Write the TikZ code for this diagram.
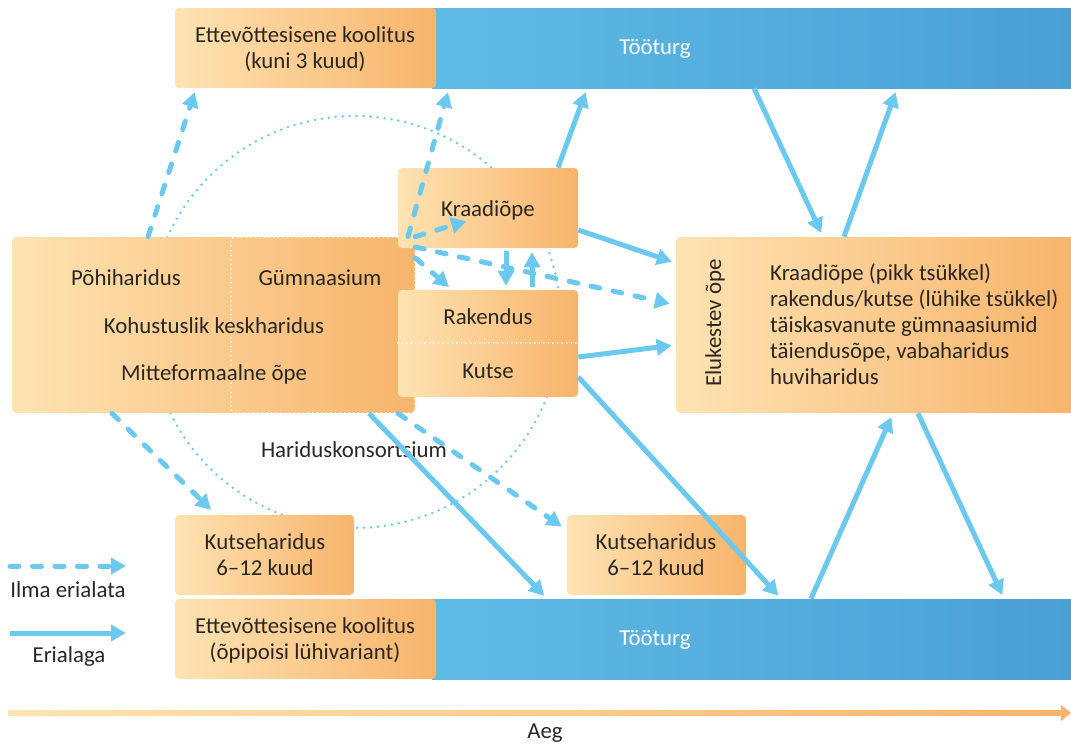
\documentclass[tikz,border=0pt]{standalone}
\usepackage{fontspec}
\setmainfont{Carlito}
\usetikzlibrary{arrows.meta,fit}
\definecolor{orlight}{HTML}{FEE3B3}
\definecolor{ordark}{HTML}{F7B46B}
\definecolor{bluelight}{HTML}{5EBBE6}
\definecolor{bluedark}{HTML}{4A9FD4}
\definecolor{arrowblue}{HTML}{6BC8EF}
\definecolor{ink}{HTML}{2B2622}

\begin{document}
\begin{tikzpicture}[x=0.02cm,y=-0.02cm,font=\fontsize{13}{14.8}\selectfont,text=ink]
    %
    % `box' is used for the orange boxes, `market' for the blue bars.
    % `flow' (erialaga) and `loose' (ilma erialata) are the arrows.
    % `ring' is the dotted circle of the consortium.
    \tikzstyle{box} = [left color=orlight,right color=ordark,rounded corners=0.08cm,inner sep=0pt]
    \tikzstyle{market} = [left color=bluelight,right color=bluedark,inner sep=0pt]
    \tikzstyle{label} = [align=center]
    \tikzstyle{flow} = [arrowblue,line width=0.1cm,-{Triangle[length=0.3cm,width=0.32cm]},shorten >=0.08cm]
    \tikzstyle{loose} = [flow,line cap=round,dash pattern=on 0.18cm off 0.27cm]
    \tikzstyle{split} = [draw=white,line width=1.1pt,line cap=round,dash pattern=on 0pt off 2.6pt]
    \tikzstyle{ring} = [draw=arrowblue,line width=0.055cm,line cap=round,dash pattern=on 0pt off 0.14cm]
    \useasboundingbox (0,0) rectangle (1071,747);
    %
    % Consortium circle (behind everything)
    \node[ring,circle,minimum size=8.24cm,inner sep=0pt] (ringc) at (355,322) {};
    \node (kons) at (354,450) {Hariduskonsortsium};
    %
    % Top row
    \node[market, fit={(432,8) (1075,88)}] (tooTop) {};
    \node[box, fit={(175,8) (436,88)}] (etteTop) {};
    \node[label] (etteTopT) at (305,49) {Ettevõttesisene koolitus\\(kuni 3 kuud)};
    \node[text=white] (tooTopT) at (655,49) {Tööturg};
    %
    % Bottom row
    \node[market, fit={(432,599) (1075,679)}] (tooBot) {};
    \node[box, fit={(175,599) (436,679)}] (etteBot) {};
    \node[label] (etteBotT) at (305,640) {Ettevõttesisene koolitus\\(õpipoisi lühivariant)};
    \node[text=white] (tooBotT) at (655,640) {Tööturg};
    %
    % School block
    \node[box, fit={(12,237) (415,413)}] (kool) {};
    \node[split, rounded corners=0.08cm, fit={(231,237) (415,413)}, inner sep=0pt] (gymn) {};
    \node (pohi) at (126,278) {Põhiharidus};
    \node (gymnT) at (320,278) {Gümnaasium};
    \node (kohust) at (214,326) {Kohustuslik keskharidus};
    \node (mitte) at (214,374) {Mitteformaalne õpe};
    %
    % Higher education
    \node[box, fit={(398,168) (578,248)}] (kraadi) {};
    \node (kraadiT) at (488,210) {Kraadiõpe};
    \node[box, fit={(398,290) (578,397)}] (rak) {};
    \draw[split] (rak.west |- 0,343) -- (rak.east |- 0,343);
    \node (rakT) at (488,317) {Rakendus};
    \node (kutseT) at (488,371) {Kutse};
    %
    % Short vocational courses
    \node[box, fit={(175,515) (354,595)}] (kut1) {};
    \node[label] (kut1T) at (265,555) {Kutseharidus\\6--12 kuud};
    \node[box, fit={(567,515) (746,595)}] (kut2) {};
    \node[label] (kut2T) at (656,555) {Kutseharidus\\6--12 kuud};
    %
    % Lifelong learning
    \node[box, fit={(676,237) (1075,413)}] (eluk) {};
    \node[rotate=90] (elukT) at (715,323) {Elukestev õpe};
    \node[anchor=west,align=left] (elukL) at (764,324) {Kraadiõpe (pikk tsükkel)\\rakendus/kutse (lühike tsükkel)\\täiskasvanute gümnaasiumid\\täiendusõpe, vabaharidus\\huviharidus};
    %
    % Arrows without speciality
    \draw[loose] (148,0 |- kool.north) -- (196,0 |- etteTop.south);
    \draw[loose] (408,0 |- kool.north) -- (449,0 |- tooTop.south);
    \draw[loose] (kool.north east) -- (470,220);
    \draw[loose] (kool.east |- 0,258) -- (452,0 |- rak.north);
    \draw[loose,shorten >=0.12cm] (kool.east |- 0,247) -- (eluk.west |- 0,305);
    \draw[loose,shorten >=0.14cm] (112,0 |- kool.south) -- (216,0 |- kut1.north);
    \draw[loose,shorten >=0.12cm] (398,0 |- kool.south) -- (kut2.west |- 0,530);
    %
    % Arrows with speciality
    \draw[flow] (558,0 |- kraadi.north) -- (587,0 |- tooTop.south);
    \draw[flow] (754,0 |- tooTop.south) -- (823,0 |- eluk.north);
    \draw[flow] (844,0 |- eluk.north) -- (897,0 |- tooTop.south);
    \draw[flow] (kraadi.east |- 0,230) -- (eluk.west |- 0,263);
    \draw[flow] (rak.east |- 0,357) -- (eluk.west |- 0,345);
    \draw[flow] (rak.east |- 0,377) -- (781,0 |- tooBot.north);
    \draw[flow] (369,0 |- kool.south) -- (547,0 |- tooBot.north);
    \draw[flow] (811,0 |- tooBot.north) -- (893,0 |- eluk.south);
    \draw[flow] (918,0 |- eluk.south) -- (1004,0 |- tooBot.north);
    \draw[flow,shorten <=0.06cm] (506,0 |- kraadi.south) -- (506,0 |- rak.north);
    \draw[flow,shorten <=0.06cm] (532,0 |- rak.north) -- (532,0 |- kraadi.south);
    %
    % Legend
    \coordinate (legA) at (10,566);
    \coordinate (legB) at (10,633);
    \draw[loose,shorten >=0pt] (legA) -- +(116,0);
    \node (ilma) at (68,590) {Ilma erialata};
    \draw[flow,shorten >=0pt] (legB) -- +(116,0);
    \node (eria) at (69,657) {Erialaga};
    %
    % Time axis
    \shade[left color=orlight,right color=ordark] (8,710.5) rectangle (1062,715.5);
    \fill[ordark] (1061,705) -- (1071,713) -- (1061,721) -- cycle;
    \node (aeg) at (545,733) {Aeg};
    %
\end{tikzpicture}
\end{document}
